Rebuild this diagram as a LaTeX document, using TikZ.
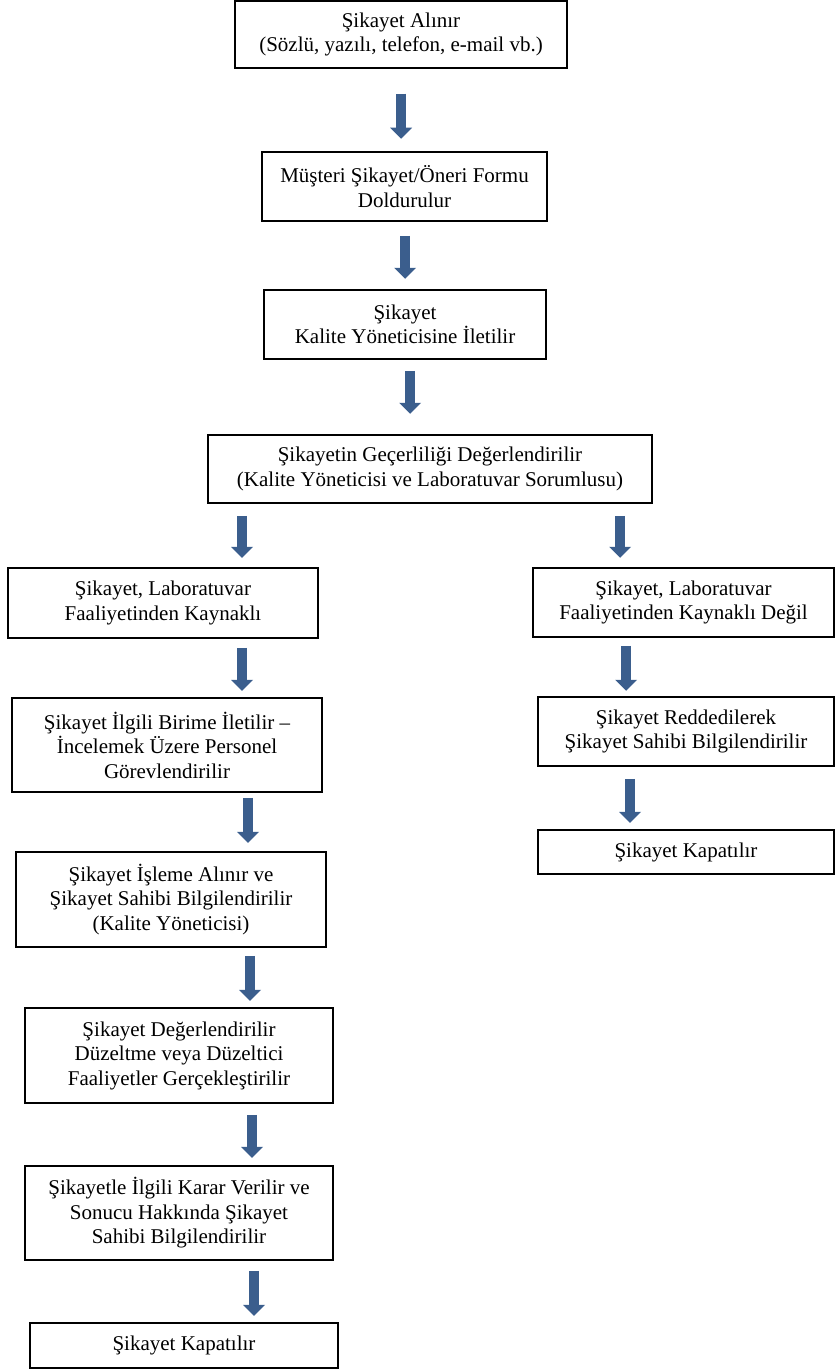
\documentclass[tikz,border=0pt]{standalone}
\usepackage{fontspec}
\setmainfont{Liberation Serif}
\usetikzlibrary{arrows.meta}
\definecolor{arrowblue}{RGB}{59,94,141}
\begin{document}
\begin{tikzpicture}[x=1pt,y=-1pt,
  box/.style={draw=black,line width=1.5pt,inner sep=0pt,align=center,
    font=\fontsize{21}{24.5}\selectfont},
  barrow/.style={draw=arrowblue,line width=9.5pt,
    -{Triangle[width=22pt,length=11pt,line width=0pt]}}]
\useasboundingbox (0,0) rectangle (835,1370);
% main column
\node[box,minimum width=332pt,minimum height=67pt] (n1) at (401,34.5)
  {Şikayet Alınır\\(Sözlü, yazılı, telefon, e-mail vb.)};
\node[box,minimum width=285pt,minimum height=69pt] (n2) at (404.5,186.5)
  {Müşteri Şikayet/Öneri Formu\\Doldurulur};
\node[box,minimum width=282pt,minimum height=69pt] (n3) at (405,324.5)
  {Şikayet\\Kalite Yöneticisine İletilir};
\node[box,minimum width=444pt,minimum height=68pt] (n4) at (430,469)
  {Şikayetin Geçerliliği Değerlendirilir\\(Kalite Yöneticisi ve Laboratuvar Sorumlusu)};
% left branch
\node[box,minimum width=310pt,minimum height=70pt] (n5L) at (163,603)
  {Şikayet, Laboratuvar\\Faaliyetinden Kaynaklı};
\node[box,minimum width=310pt,minimum height=94pt] (n6L) at (167,745)
  {Şikayet İlgili Birime İletilir –\\İncelemek Üzere Personel\\Görevlendirilir};
\node[box,minimum width=310pt,minimum height=95pt] (n7L) at (171,899.5)
  {Şikayet İşleme Alınır ve\\Şikayet Sahibi Bilgilendirilir\\(Kalite Yöneticisi)};
\node[box,minimum width=308pt,minimum height=95pt] (n8L) at (179,1055.5)
  {Şikayet Değerlendirilir\\Düzeltme veya Düzeltici\\Faaliyetler Gerçekleştirilir};
\node[box,minimum width=308pt,minimum height=94pt] (n9L) at (179,1213)
  {Şikayetle İlgili Karar Verilir ve\\Sonucu Hakkında Şikayet\\Sahibi Bilgilendirilir};
\node[box,minimum width=308pt,minimum height=45pt] (n10L) at (184,1345.5)
  {Şikayet Kapatılır};
% right branch
\node[box,minimum width=301pt,minimum height=69pt] (n5R) at (683.5,602.5)
  {Şikayet, Laboratuvar\\Faaliyetinden Kaynaklı Değil};
\node[box,minimum width=296pt,minimum height=69pt] (n6R) at (686,731.5)
  {Şikayet Reddedilerek\\ Şikayet Sahibi Bilgilendirilir};
\node[box,minimum width=296pt,minimum height=44pt] (n7R) at (686,852)
  {Şikayet Kapatılır};
% arrows
\draw[barrow] ([shift={(0,25)}]n1.south) -- ++(0,45);
\draw[barrow] ([shift={(0.5,14)}]n2.south) -- ++(0,43);
\draw[barrow] ([shift={(5,11)}]n3.south) -- ++(0,43);
\draw[barrow] ([shift={(-188,12)}]n4.south) -- ++(0,42);
\draw[barrow] ([shift={(190,12)}]n4.south) -- ++(0,42);
\draw[barrow] ([shift={(79,9)}]n5L.south) -- ++(0,43);
\draw[barrow] ([shift={(81,5)}]n6L.south) -- ++(0,45);
\draw[barrow] ([shift={(79,8)}]n7L.south) -- ++(0,45);
\draw[barrow] ([shift={(73,11)}]n8L.south) -- ++(0,43);
\draw[barrow] ([shift={(75,10)}]n9L.south) -- ++(0,45);
\draw[barrow] ([shift={(-57.5,8)}]n5R.south) -- ++(0,45);
\draw[barrow] ([shift={(-56,12)}]n6R.south) -- ++(0,44);
\end{tikzpicture}
\end{document}
